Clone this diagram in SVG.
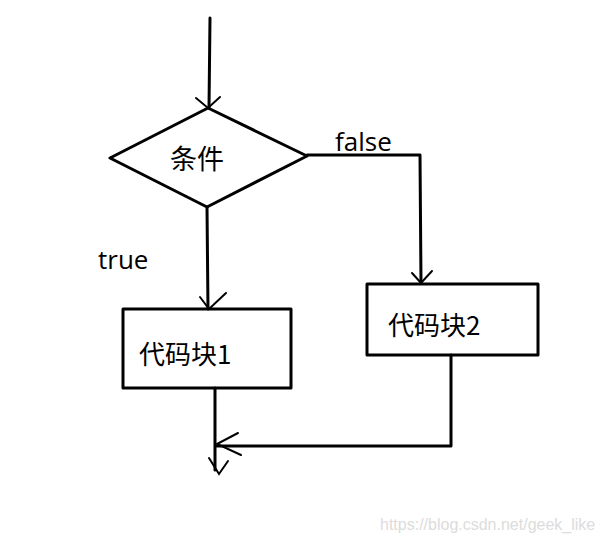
<svg xmlns="http://www.w3.org/2000/svg" width="602" height="544" viewBox="0 0 602 544">
<style>
.ln{fill:none;stroke:#000;stroke-width:3;stroke-linecap:round;stroke-linejoin:round}
.wg{fill:none;stroke:#000;stroke-width:2;stroke-linecap:round}
.t{font-family:"Noto Sans CJK SC","Liberation Sans",sans-serif;fill:#000}
</style>
<rect width="602" height="544" fill="#fff"/>
<g id="connectors">
<path class="ln" d="M210,18 L209,108"/>
<path class="wg" d="M196,98 L208,108 L220,97"/>
<path class="ln" d="M307,155 L420,155 L421,283"/>
<path class="wg" d="M412,273 L421,283 L432,271"/>
<path class="ln" d="M207,207 L208,309"/>
<path class="wg" d="M200,297 L209,309 L226,293"/>
<path class="ln" d="M215,388 L215,470"/>
<path class="wg" d="M209,458 L219,474 L228,461"/>
<path class="ln" d="M451,355 L451,446 L217,446"/>
<path class="wg" d="M238,433 L217,444 L241,455"/>
</g>
<g id="cond">
<polygon class="ln" points="208,108 307,156 207,207 110,158"/>
<text class="t" x="170" y="169" font-size="27">条件</text>
</g>
<g id="block1">
<rect class="ln" x="123" y="309" width="168" height="79"/>
<text class="t" x="139" y="364" font-size="26">代码块1</text>
</g>
<g id="block2">
<rect class="ln" x="367" y="284" width="171" height="71"/>
<text class="t" x="388" y="335" font-size="26">代码块2</text>
</g>
<text x="335" y="151" font-family="'Open Sans','Liberation Sans',sans-serif" font-size="26">false</text>
<text x="98" y="269" font-family="'Open Sans','Liberation Sans',sans-serif" font-size="26">true</text>
<text x="380" y="530" font-family="'Liberation Sans',sans-serif" font-size="16" fill="#dcdcdc">https://blog.csdn.net/geek_like</text>
</svg>
